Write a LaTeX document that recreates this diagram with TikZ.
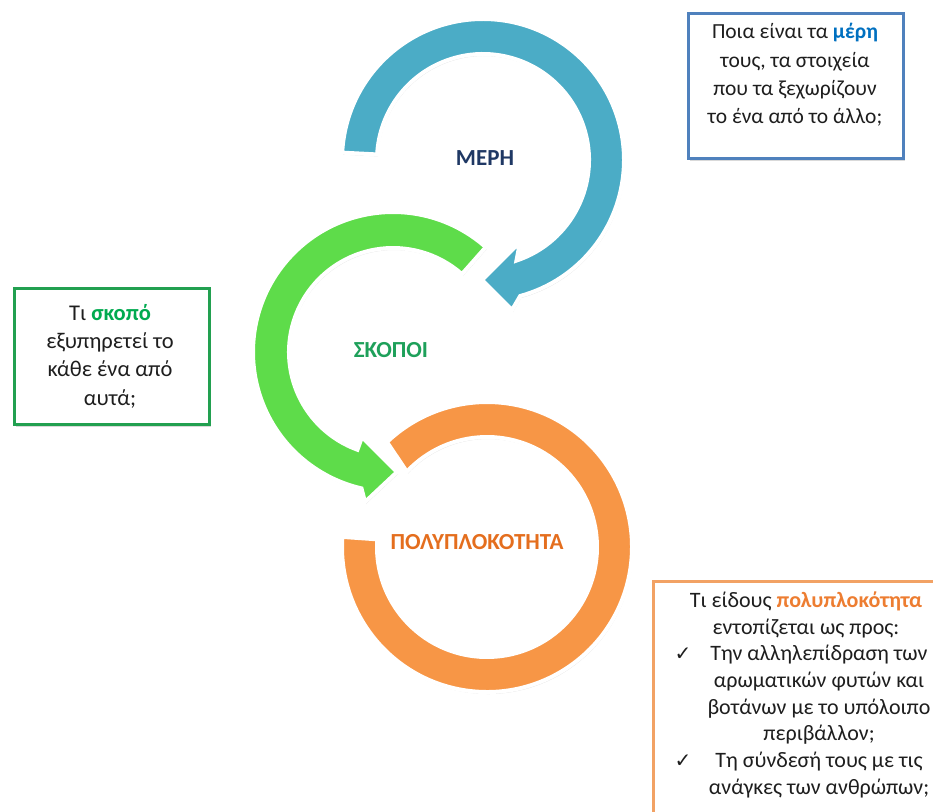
\documentclass[tikz,border=0pt]{standalone}
\usepackage{fontspec}
\setmainfont{Carlito}
\newfontfamily\symfont{DejaVu Sans}
\usetikzlibrary{shadows}
\definecolor{arrowblue}{RGB}{75,172,198}
\definecolor{arrowgreen}{RGB}{94,220,74}
\definecolor{arroworange}{RGB}{247,150,70}
\definecolor{mephcol}{RGB}{31,56,100}
\definecolor{skopoicol}{RGB}{30,160,90}
\definecolor{polycol}{RGB}{228,110,30}
\definecolor{mereblue}{RGB}{0,112,192}
\definecolor{skgreen}{RGB}{0,170,80}
\definecolor{polyorange}{RGB}{237,125,49}
\definecolor{boxblue}{RGB}{79,129,189}
\definecolor{boxgreen}{RGB}{34,160,80}
\definecolor{boxorange}{RGB}{242,162,100}
\definecolor{bodytext}{RGB}{30,30,30}
\newcommand\orow[2]{\makebox[12pt][c]{#1} & \makebox[232pt][c]{#2}}
\newcommand\otitle[1]{\multicolumn{2}{@{}c@{}}{\makebox[242pt][c]{#1}\hspace{16pt}}}
\newcommand\chk{{\fontsize{20}{20}\symfont ✓}}
\begin{document}
\begin{tikzpicture}[x=1pt,y=1pt,
  arrowshape/.style={draw=white, line width=4pt, line join=miter,
    drop shadow={shadow xshift=1pt, shadow yshift=-2pt, opacity=0.2, fill=black!60}},
  lbl/.style={font=\fontsize{23}{26}\selectfont\bfseries, inner sep=0pt},
  qbox/.style={fill=white, line width=2.7pt, inner sep=0pt, anchor=north west,
    drop shadow={shadow xshift=2pt, shadow yshift=-3pt, opacity=0.3, fill=black!50}},
  qtext/.style={font=\fontsize{22.5}{28.3}\selectfont, text=bodytext, align=center, inner sep=0pt},
  otext/.style={font=\fontsize{22}{26.7}\selectfont, text=bodytext, inner sep=0pt}
]
\useasboundingbox (0,0) rectangle (933,-811);
\clip (0,0) rectangle (933,-811);

\coordinate (Bc) at (483,-160);
\coordinate (Gc) at (393,-352);
\coordinate (Oc) at (487,-547);

% orange ring
\path[arrowshape, fill=arroworange]
  ([shift={(176:145)}]Oc) arc[start angle=176, end angle=493.6, radius=145]
  -- ([shift={(496.8:110)}]Oc) arc[start angle=496.8, end angle=176, radius=110] -- cycle;

% green arrow
\path[arrowshape, fill=arrowgreen]
  ([shift={(48.5:140)}]Gc) arc[start angle=48.5, end angle=257, radius=140]
  -- (365,-502) -- (397,-472) -- (362,-437)
  -- ([shift={(250:104)}]Gc) arc[start angle=250, end angle=48.5, radius=104] -- cycle;

% blue arrow
\path[arrowshape, fill=arrowblue]
  ([shift={(177:141)}]Bc) arc[start angle=177, end angle=-74.7, radius=141]
  -- (512,-310) -- (482,-280) -- (520,-242)
  -- ([shift={(-71.6:106)}]Bc) arc[start angle=-71.6, end angle=177, radius=106] -- cycle;

\node[lbl, text=mephcol] (meph) at (485,-158) {ΜΕΡΗ};
\node[lbl, text=skopoicol] (skopoi) at (391,-350) {ΣΚΟΠΟΙ};
\node[lbl, text=polycol] (poly) at (477,-542) {ΠΟΛΥΠΛΟΚΟΤΗΤΑ};

% question boxes
\node[qbox, draw=boxblue, minimum width=215pt, minimum height=145pt] (bbox) at (687,-12) {};
\node[qtext, font=\fontsize{21.5}{28.3}\selectfont] (btext) at (795,-75) {Ποια είναι τα \textcolor{mereblue}{\textbf{μέρη}}\\τους, τα στοιχεία\\που τα ξεχωρίζουν\\το ένα από το άλλο;};

\node[qbox, draw=boxgreen, minimum width=195pt, minimum height=136pt] (gbox) at (13,-287) {};
\node[qtext] (gtext) at (110,-356) {Τι \textcolor{skgreen}{\textbf{σκοπό}}\\εξυπηρετεί το\\κάθε ένα από\\αυτά;};

\node[qbox, draw=boxorange, minimum width=300pt, minimum height=250pt] (obox) at (652,-580) {};
\node[otext] (otxt) at (806,-695.5) {%
\begin{tabular}{@{}c@{\hspace{14pt}}c@{}}
\otitle{Τι είδους \textcolor{polyorange}{\textbf{πολυπλοκότητα}}}\\
\otitle{εντοπίζεται ως προς:}\\
\orow{\chk}{Την αλληλεπίδραση των}\\
\orow{}{αρωματικών φυτών και}\\
\orow{}{βοτάνων με το υπόλοιπο}\\
\orow{}{περιβάλλον;}\\
\orow{\chk}{Τη σύνδεσή τους με τις}\\
\orow{}{ανάγκες των ανθρώπων;}
\end{tabular}};
\end{tikzpicture}
\end{document}
